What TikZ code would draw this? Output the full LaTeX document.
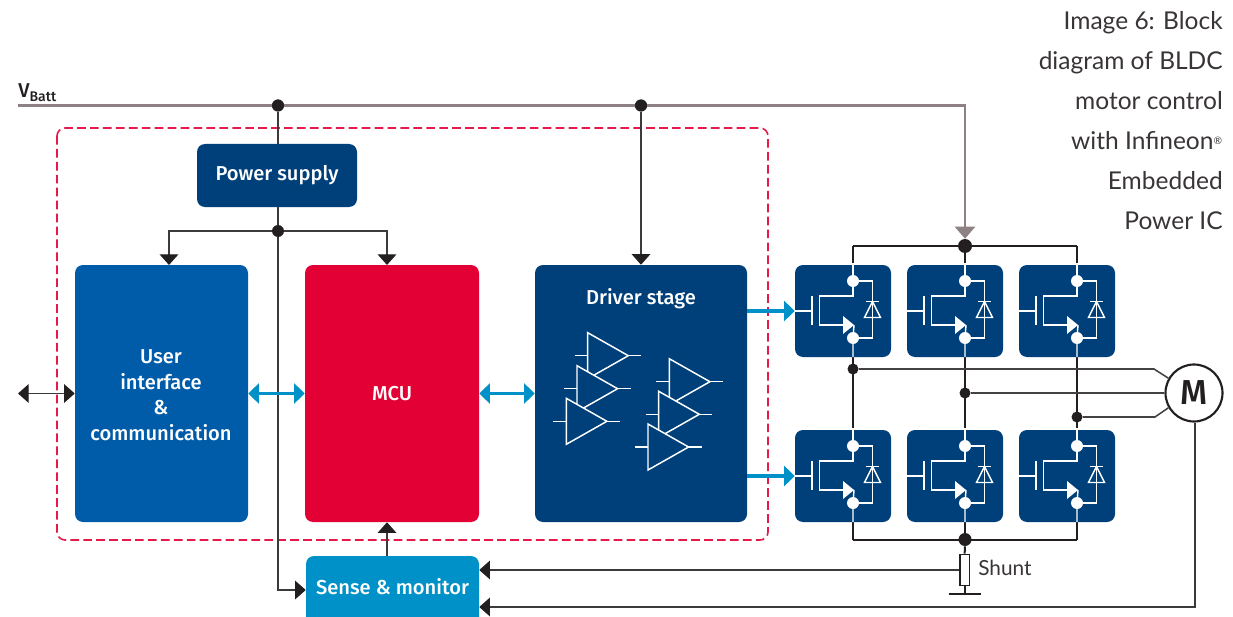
\documentclass[tikz,border=0pt]{standalone}
\usepackage{fontspec}
\setmainfont[BoldFont={Fira Sans Medium}]{Fira Sans}
\newfontfamily\captionfont{Lato}
\usetikzlibrary{positioning,arrows.meta,calc}
\definecolor{navy}{HTML}{00407A}
\definecolor{midblue}{HTML}{005CA9}
\definecolor{skyblue}{HTML}{0091C8}
\definecolor{mcured}{HTML}{E30034}
\definecolor{wirecol}{HTML}{231F20}
\definecolor{battcol}{HTML}{8E8183}
\def\px{0.75pt}
\tikzset{
	x=0.75pt, y=-0.75pt,
	>={Triangle[width=14pt,length=8pt,color=wirecol]},
	every node/.style = {font=\fontsize{15.1}{19}\selectfont\bfseries, text=white, inner sep=0, align=center},
	block/.style = {rounded corners=6pt, minimum width=#1*\px},
	wire/.style = {draw=wirecol, line width=1.5pt},
	thin wire/.style = {draw=wirecol!88, line width=0.9pt},
	phase/.style = {draw=wirecol!85, line width=1.15pt},
	blueline/.style = {draw=skyblue, line width=2.4pt, >={Triangle[width=15pt,length=8pt]}},
	dot/.style = {circle, fill=wirecol, minimum size=#1*\px},
	whitewire/.style = {draw=white, line width=1.1pt},
	amp/.pic = {
		\draw[whitewire, fill=navy] (0,-23) -- (40.6,0) -- (0,23) -- cycle;
		\draw[whitewire] (-13,0) -- (0,0) (40.6,0) -- (53.6,0);
	},
	switch/.pic = {
		\draw[whitewire] (-48,0) -- (-31,0) (-31,-15) -- (-31,14);
		\draw[whitewire] (10,-48) -- (10,-15) -- (-23.5,-15) -- (-23.5,14) -- (0,14);
		\fill[white] (0,5) -- (11,14) -- (0,23) -- cycle;
		\draw[whitewire] (11,14) -- (10,27) -- (10,46);
		\draw[whitewire] (10,-30) -- (29.5,-30) -- (29.5,27) -- (10,27);
		\draw[whitewire] (23,-9.5) -- (35.5,-9.5);
		\draw[whitewire] (29.5,-9.5) -- (21.5,6.5) -- (37.5,6.5) -- cycle;
		\fill[white] (10,-30) circle (6) (10,27) circle (6);
	}
}
\begin{document}
\begin{tikzpicture}
	\useasboundingbox (0,0) rectangle (1233,617);

	% frame and blocks
	\draw[mcured!90, line width=1.2pt, dash pattern=on 6.5pt off 3.2pt, rounded corners=6pt] (57,128) rectangle (768,540);
	\node(psu)[block=160, fill=navy, minimum height=63*\px] at (277,175.5) {\raisebox{-1.2pt}{Power supply}};
	\node(ui)[block=173, fill=midblue, minimum height=257*\px] at (161.5,393.5) {};
	\node(uilabel)[font=\fontsize{15.1}{19.2}\selectfont\bfseries] at (161,395) {User\\interface\\\&\\communication};
	\node(mcu)[block=174, fill=mcured, minimum height=257*\px] at (392,393.5) {\raisebox{-0.8pt}{MCU}};
	\node(driver)[block=212, fill=navy, minimum height=257*\px] at (641,393.5) {};
	\node(driverlabel) at (641,298.5) {Driver stage};
	\fill[skyblue] (306,617) [rounded corners=6pt] -- (306,556) -- (479,556) [sharp corners] -- (479,617) -- cycle;
	\node(sense)[minimum width=173*\px, minimum height=61*\px] at (392.5,586.5) {Sense \& monitor};

	\foreach \ax/\ay in {587.7/355.7, 577/388.7, 566.3/421.3, 669.3/381.7, 658.7/414.3, 648/447}
		\pic at (\ax,\ay) {amp};

	% supply
	\coordinate(vstart) at (18,105.5);
	\coordinate(vcorner) at (965,105.5);
	\node(vlabel)[anchor=base west, text=wirecol, font=\fontsize{15}{18}\selectfont\bfseries] at (18,98) {V\textsubscript{Batt}};
	\node(dota)[dot=12] at (278,105.5) {};
	\node(dotb)[dot=12] at (641,105.5) {};
	\node(dotc)[dot=12] at (278,231) {};
	\coordinate(uitop) at (169,265);
	\coordinate(mcutop) at (387,265);
	\node(toprail)[dot=14] at (965,246) {};
	\node(botrail)[dot=13] at (965,539.5) {};

	% rails behind the switches
	\foreach \c/\x in {a/853,b/965,c/1077} {
		\coordinate(top\c) at (\x,246);
		\coordinate(bot\c) at (\x,539.5);
		\draw[wire] (top\c) -- (bot\c);
	}
	\draw[wire] (topa) -- (topc);
	\draw[wire] (bota) -- (botc);

	% motor
	\node(motor)[circle, draw=wirecol, line width=1.6pt, fill=white, minimum size=57*\px, text=wirecol, font=\fontsize{26}{26}\selectfont\bfseries] at (1194,393) {M};
	\node(phasea)[dot=11] at (853,369) {};
	\node(phaseb)[dot=11] at (965,393) {};
	\node(phasec)[dot=11] at (1077,417) {};
	\coordinate(benda) at (1154,369);
	\coordinate(bendc) at (1155,417);
	\draw[phase] (phasea) -- (benda) -- (motor.150);
	\draw[phase] (phaseb) -- (motor.west);
	\draw[phase] (phasec) -- (bendc) -- (motor.210);

	% switches
	\foreach \c/\x in {a/843,b/955,c/1067}
		\foreach \r/\y in {hi/311,lo/476} {
			\node(sw\c\r)[block=96, fill=navy, minimum height=92*\px] at (\x,\y) {};
			\pic at (\x,\y) {switch};
		}

	% connectors
	\draw[draw=battcol, line width=1.9pt, >={Triangle[width=15pt,length=9pt]}, ->] (vstart) -- (vcorner) -- (toprail.north);
	\node[dot=12] at (dota) {};
	\node[dot=12] at (dotb) {};
	\draw[thin wire] (dota) -- (dota |- psu.north);
	\draw[thin wire] (dotc |- psu.south) -- (dotc);
	\draw[thin wire, ->] (dotc) -| (uitop);
	\draw[thin wire, ->] (dotc) -| (mcutop);
	\draw[thin wire, ->] (dotb) -- (driver.north);
	\draw[thin wire, ->] (dotc) |- (sense.west |- 0,590);
	\draw[thin wire, ->] (sense.north -| mcutop) -- (mcu.south -| mcutop);

	\draw[blueline, <->] (ui.east) -- (mcu.west);
	\draw[blueline, <->] (mcu.east) -- (driver.west);
	\draw[blueline, ->] (driver.east |- swahi.west) -- (swahi.west);
	\draw[blueline, ->] (driver.east |- swalo.west) -- (swalo.west);
	\coordinate(extio) at (18,393.5);
	\draw[thin wire, <->] (extio) -- (ui.west);

	% shunt
	\node(shunt)[draw=wirecol, line width=0.9pt, fill=white, minimum width=9.5*\px, minimum height=31.5*\px] at (964.7,570) {};
	\node(shuntlabel)[anchor=west, text=wirecol!90, font=\captionfont\fontsize{15.6}{18}\selectfont] at (978,568) {Shunt};
	\coordinate(gnd) at (964.7,594);
	\draw[wire] (botrail) -- (shunt.north);
	\draw[wire] (shunt.south) -- (gnd);
	\draw[wire] ($(gnd)+(-16,0)$) -- ($(gnd)+(16,0)$);
	\draw[thin wire, ->] (shunt.west) -- (sense.east |- shunt.west);
	\coordinate(motorback) at (1195,607);
	\draw[thin wire, ->] (motor.south -| motorback) -- (motorback) -- (sense.east |- motorback);

	% caption
	\node(caption)[anchor=north east, align=right, text=wirecol!90, font=\captionfont\fontsize{18.4}{30}\selectfont] at (1223,11) {Image 6: Block\\diagram of BLDC\\motor control\\with Infineon{\fontsize{11}{11}\selectfont\textsuperscript{®}}\\Embedded\\Power IC};
\end{tikzpicture}
\end{document}
